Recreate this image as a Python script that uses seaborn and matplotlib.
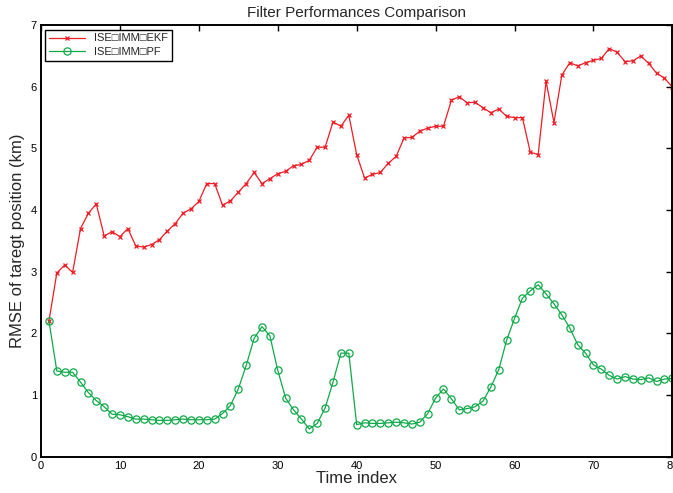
import numpy as np
import pandas as pd
import matplotlib
matplotlib.use("Agg")
import matplotlib.pyplot as plt
import seaborn as sns

time_index = list(range(1, 81))
ekf_rmse = [2.20, 2.98, 3.11, 2.99, 3.70, 3.95, 4.10, 3.58, 3.65, 3.57,
            3.70, 3.42, 3.40, 3.44, 3.52, 3.66, 3.78, 3.95, 4.02, 4.14,
            4.43, 4.43, 4.08, 4.15, 4.29, 4.43, 4.61, 4.43, 4.51, 4.59,
            4.63, 4.72, 4.74, 4.81, 5.02, 5.02, 5.43, 5.36, 5.54, 4.90,
            4.52, 4.58, 4.61, 4.76, 4.87, 5.17, 5.18, 5.28, 5.33, 5.36,
            5.36, 5.78, 5.84, 5.74, 5.75, 5.66, 5.58, 5.64, 5.52, 5.50,
            5.50, 4.94, 4.90, 6.09, 5.42, 6.19, 6.39, 6.34, 6.39, 6.43,
            6.46, 6.62, 6.56, 6.41, 6.42, 6.50, 6.38, 6.22, 6.14, 6.00]
pf_rmse = [2.20, 1.39, 1.37, 1.37, 1.21, 1.04, 0.91, 0.81, 0.69, 0.68,
           0.65, 0.61, 0.61, 0.60, 0.59, 0.59, 0.60, 0.61, 0.60, 0.60,
           0.60, 0.61, 0.70, 0.83, 1.10, 1.48, 1.92, 2.11, 1.96, 1.40,
           0.95, 0.76, 0.61, 0.45, 0.54, 0.79, 1.21, 1.68, 1.68, 0.52,
           0.55, 0.54, 0.54, 0.55, 0.56, 0.55, 0.53, 0.56, 0.70, 0.95,
           1.10, 0.94, 0.76, 0.78, 0.81, 0.90, 1.13, 1.41, 1.89, 2.24,
           2.57, 2.69, 2.79, 2.64, 2.48, 2.30, 2.09, 1.82, 1.68, 1.49,
           1.42, 1.32, 1.26, 1.30, 1.26, 1.25, 1.28, 1.22, 1.26, 1.27]
series_names = ["ISE\u25a1IMM\u25a1EKF", "ISE\u25a1IMM\u25a1PF"]
x_ticks = [0, 10, 20, 30, 40, 50, 60, 70, 80]
y_ticks = [0, 1, 2, 3, 4, 5, 6, 7]

sns.set_theme(style="white")
plt.rcParams['font.family'] = ['Liberation Sans', 'DejaVu Sans']

fig = plt.figure(figsize=(6.73, 4.93), dpi=100)
ax = fig.add_axes([0.061, 0.0736, 0.938, 0.8754])

df_ekf = pd.DataFrame({"t": time_index, "v": ekf_rmse})
df_pf = pd.DataFrame({"t": time_index, "v": pf_rmse})

sns.lineplot(data=df_ekf, x="t", y="v", ax=ax, color="#ee1c25", linewidth=0.9,
             marker="x", markersize=3.2, markeredgewidth=0.9, markeredgecolor="#ee1c25",
             label=series_names[0])
sns.lineplot(data=df_pf, x="t", y="v", ax=ax, color="#10a94a", linewidth=0.9,
             marker="o", markersize=5.2, markerfacecolor="none", markeredgewidth=0.9,
             markeredgecolor="#10a94a", label=series_names[1])

ax.set_xlim(0, 80)
ax.set_ylim(0, 7)
ax.set_xticks(x_ticks)
ax.set_yticks(y_ticks)
ax.tick_params(direction="in", length=4, width=1, top=True, right=True,
               labelsize=8, colors="black", pad=3)
for s in ax.spines.values():
    s.set_visible(True)
    s.set_color("black")
    s.set_linewidth(1.4)
ax.set_title("Filter Performances Comparison", fontsize=11, pad=6)
ax.set_xlabel("Time index", fontsize=12, labelpad=0)
ax.set_ylabel("RMSE of taregt position (km)", fontsize=12, labelpad=4)

leg = ax.legend(loc="upper left", fontsize=8, frameon=True, fancybox=False,
                edgecolor="black", borderpad=0.35, handlelength=3.2,
                labelspacing=0.35, borderaxespad=0.4)
leg.get_frame().set_linewidth(1.0)
leg.get_frame().set_alpha(1)

fig.savefig("out.png", dpi=100)
